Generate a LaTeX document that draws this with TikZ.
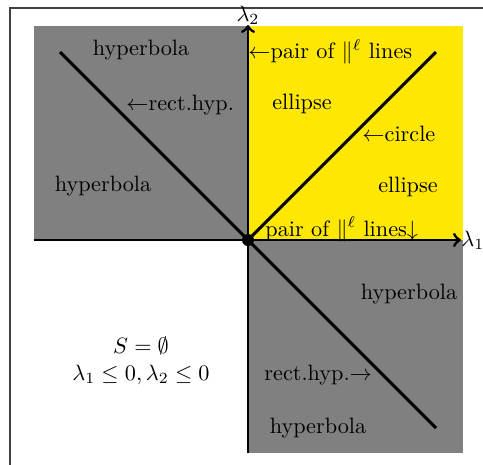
\documentclass[tikz,border=0pt]{standalone}
\usepackage{amsmath,amssymb}
\begin{document}
\begin{tikzpicture}[x=0.45pt,y=-0.45pt,
  lab/.style={inner sep=0pt, font=\normalsize},
  thickline/.style={line width=1.3pt}]
\useasboundingbox (0,0) rectangle (483,465);
\begin{scope}
\clip (0,0) rectangle (483,465);
\draw[line width=0.5pt, black!75] (10,8) rectangle (495,480);
\end{scope}
% regions
\fill[gray] (34,26) rectangle (248,240);
\fill[yellow!95!red] (248,26) rectangle (463,240);
\fill[gray] (248,240) rectangle (463,453);
% coordinates
\coordinate (O) at (248,240);
\coordinate (xl) at (34,240);
\coordinate (xr) at (461,240);
\coordinate (yb) at (248,453);
\coordinate (yt) at (248,25);
\coordinate (ul) at (60,52);
\coordinate (lr) at (436,428);
\coordinate (ur) at (436,52);
% diagonals
\draw[thickline] (ul) -- (lr);
\draw[thickline] (O) -- (ur);
% axes
\draw[thickline,->] (xl) -- (xr);
\draw[thickline,->] (yb) -- (yt);
\node[lab, anchor=west] (l1) at (xr) {$\lambda_1$};
\node[lab, anchor=south] (l2) at (yt) {$\lambda_2$};
\fill (O) circle (6);
% labels
\node[lab] (h1) at (141,50) {hyperbola};
\node[lab, anchor=west] (rh1) at (126,105) {$\leftarrow$rect.hyp.};
\node[lab] (h2) at (103,186) {hyperbola};
\node[lab, anchor=west] (p1) at (248,52) {$\leftarrow$pair of $\|^\ell$ lines};
\node[lab] (e1) at (302,104) {ellipse};
\node[lab, anchor=west] (c1) at (362,134) {$\leftarrow$circle};
\node[lab] (e2) at (408,187) {ellipse};
\node[lab, anchor=base west] (p2) at (265,236) {pair of $\|^\ell$ lines$\downarrow$};
\node[lab] (h3) at (409,294) {hyperbola};
\node[lab, anchor=west] (rh2) at (264,375) {rect.hyp.$\rightarrow$};
\node[lab] (h4) at (318,428) {hyperbola};
\node[lab, align=center] (S) at (141,361) {$S=\emptyset$\\$\lambda_1\leq0,\lambda_2\leq0$};
\end{tikzpicture}
\end{document}
